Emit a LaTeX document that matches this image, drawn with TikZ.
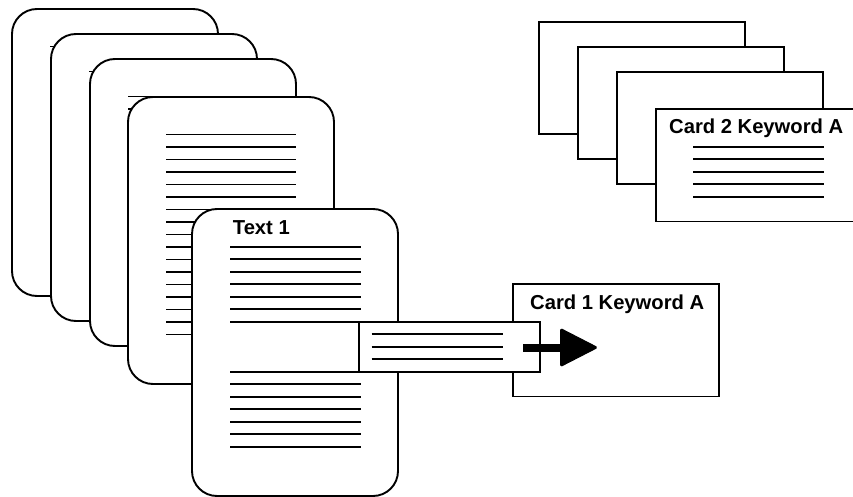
\documentclass[tikz,border=0pt]{standalone}
\usepackage{fontspec}
\setmainfont{Liberation Sans}
\begin{document}
\begin{tikzpicture}[x=1pt,y=-1pt,
  page/.style={draw=black,fill=white,line width=1.9pt,rounded corners=25pt,
    rectangle,anchor=north west,minimum width=206pt,minimum height=287pt,inner sep=0pt,outer sep=0pt},
  card/.style={draw=black,fill=white,line width=1.9pt,rectangle,anchor=north west,
    minimum width=206pt,minimum height=112.5pt,inner sep=0pt,outer sep=0pt},
  slipbox/.style={draw=black,fill=white,line width=1.9pt,rectangle,anchor=north west,
    minimum width=181pt,minimum height=50pt,inner sep=0pt,outer sep=0pt},
  txtline/.style={line width=1.7pt},
  lbl/.style={font=\bfseries\fontsize{20.2}{23}\selectfont,inner sep=0pt,anchor=base west}]
\useasboundingbox (0,0) rectangle (853,497);
\clip (0,0) rectangle (853,497);
% back pages
\foreach \nm/\px/\py in {p1/12/9, p2/51/34, p3/90/59, p4/128/97}{
  \node[page] (\nm) at (\px,\py) {};
  \foreach \k in {0,...,16}{
    \draw[txtline] ([xshift=38pt,yshift=-37.6pt-12.5pt*\k]\nm.north west) coordinate (\nm l\k a)
      -- ++(130,0) coordinate (\nm l\k b);
  }
}
% front page
\node[page] (t1) at (192,209) {};
\node[lbl] (t1label) at (232.7,234) {Text 1};
\foreach \k in {0,...,6,10,11,...,16}{
  \draw[txtline] ([xshift=38pt,yshift=-37.7pt-12.5pt*\k]t1.north west) coordinate (t1l\k a)
    -- ++(131,0) coordinate (t1l\k b);
}
% card 1
\node[card] (c1) at (513.3,284) {};
\node[lbl] (c1label) at (530,309.3) {Card 1 Keyword A};
% slip
\node[slipbox] (slip) at (359.3,321.7) {};
\foreach \k in {0,1,2}{
  \draw[txtline] ([xshift=12.4pt,yshift=-12.5pt-12.5pt*\k]slip.north west) coordinate (sl\k a)
    -- ++(131,0) coordinate (sl\k b);
}
% arrow
\coordinate (arrs) at (522.7,347.5);
\coordinate (arrt) at (597.5,347.5);
\fill[black] (arrs) ++(0,-4) rectangle (563,351.5);
\fill[black,draw=black,line width=1pt,line join=round,rounded corners=1.5pt]
  (560.5,328.5) -- (arrt) -- (560.5,366.5) -- cycle;
% card 2 stack
\node[card] (c2a) at (539.3,21.7) {};
\node[card] (c2b) at (578.3,46.7) {};
\node[card] (c2c) at (617.3,71.7) {};
\node[card] (c2d) at (655.7,109) {};
\node[lbl] (c2label) at (669,134) {Card 2 Keyword A};
\foreach \k in {0,...,4}{
  \draw[txtline] ([xshift=37.6pt,yshift=-37.7pt-12.5pt*\k]c2d.north west) coordinate (c2l\k a)
    -- ++(131,0) coordinate (c2l\k b);
}
\end{tikzpicture}
\end{document}
